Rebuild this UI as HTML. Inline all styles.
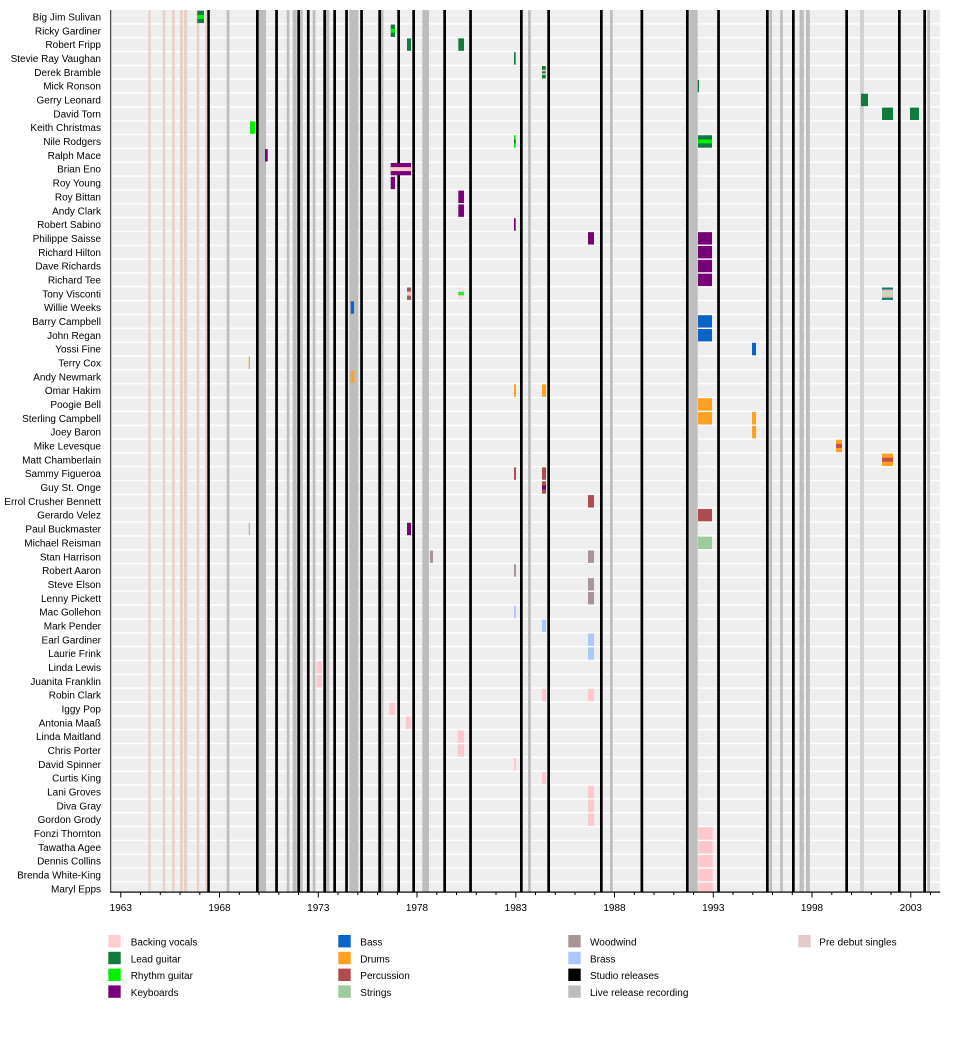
<!DOCTYPE html>
<html><head><meta charset="utf-8"><style>
html,body{margin:0;padding:0;background:#fff;}
svg{display:block;}
text{font-family:"Liberation Sans",Arial,sans-serif;font-size:10px;fill:#000;}
</style></head><body>
<svg width="960" height="1042" viewBox="0 0 960 1042" xmlns="http://www.w3.org/2000/svg">
<defs>
<pattern id="rows" patternUnits="userSpaceOnUse" x="0" y="10" width="960" height="13.84">
<rect x="0" y="0" width="960" height="13.84" fill="#eeeeee"/>
<rect x="0" y="13.14" width="960" height="1.4" fill="#ffffff"/>
<rect x="0" y="-0.7" width="960" height="1.4" fill="#ffffff"/>
</pattern>
</defs>
<rect x="110.7" y="10" width="829.3" height="882" fill="url(#rows)"/>
<rect x="110.7" y="10" width="829.3" height="0.8" fill="#eeeeee"/>

<!-- pre debut singles -->
<g fill="#e8d2c8">
<rect x="148.3" y="10" width="2.4" height="882"/>
<rect x="162.7" y="10" width="2.6" height="882"/>
<rect x="172" y="10" width="2.7" height="882"/>
<rect x="180" y="10" width="3" height="882"/>
<rect x="184" y="10" width="3.3" height="882"/>
<rect x="196.7" y="10" width="2.6" height="882"/>
<rect x="205.3" y="10" width="2" height="882"/>
</g>
<!-- live release recordings -->
<g fill="#bdbdbd">
<rect x="226.7" y="10" width="2.7" height="882"/>
<rect x="258.7" y="10" width="7.3" height="882"/>
<rect x="286.7" y="10" width="2.7" height="882"/>
<rect x="292.7" y="10" width="4" height="882"/>
<rect x="300" y="10" width="2.7" height="882"/>
<rect x="312.7" y="10" width="2.7" height="882"/>
<rect x="326" y="10" width="3.3" height="882"/>
<rect x="349.3" y="10" width="9" height="882"/>
<rect x="381" y="10" width="2.4" height="882"/>
<rect x="422.3" y="10" width="6.7" height="882"/>
<rect x="528" y="10" width="2.8" height="882"/>
<rect x="610" y="10" width="2.7" height="882"/>
<rect x="689.3" y="10" width="8.4" height="882"/>
<rect x="769.5" y="10" width="2.6" height="882"/>
<rect x="780.2" y="10" width="2.6" height="882"/>
<rect x="799.5" y="10" width="4.3" height="882"/>
<rect x="806" y="10" width="3.8" height="882"/>
<rect x="927.3" y="10" width="2.7" height="882"/>
</g>
<rect x="860" y="10" width="4" height="882" fill="#d2d2d2"/>
<!-- studio releases -->
<g fill="#000">
<rect x="207.3" y="10" width="2.5" height="882"/>
<rect x="256" y="10" width="2.7" height="882"/>
<rect x="275.2" y="10" width="2.7" height="882"/>
<rect x="297.3" y="10" width="2.7" height="882"/>
<rect x="306.9" y="10" width="2.7" height="882"/>
<rect x="323.3" y="10" width="2.7" height="882"/>
<rect x="333.3" y="10" width="2.7" height="882"/>
<rect x="345.2" y="10" width="2.7" height="882"/>
<rect x="360.2" y="10" width="2.7" height="882"/>
<rect x="378.3" y="10" width="2.7" height="882"/>
<rect x="397.3" y="10" width="2.7" height="882"/>
<rect x="412.3" y="10" width="2.7" height="882"/>
<rect x="443.3" y="10" width="2.7" height="882"/>
<rect x="469.2" y="10" width="2.7" height="882"/>
<rect x="520" y="10" width="2.7" height="882"/>
<rect x="547.3" y="10" width="2.7" height="882"/>
<rect x="600" y="10" width="2.7" height="882"/>
<rect x="640.5" y="10" width="2.7" height="882"/>
<rect x="686" y="10" width="2.7" height="882"/>
<rect x="717.2" y="10" width="2.7" height="882"/>
<rect x="766" y="10" width="2.7" height="882"/>
<rect x="792" y="10" width="2.7" height="882"/>
<rect x="845.3" y="10" width="2.7" height="882"/>
<rect x="898" y="10" width="2.7" height="882"/>
<rect x="923.3" y="10" width="2.7" height="882"/>
</g>

<!-- bars -->
<g>
<!-- 0 Big Jim Sulivan -->
<rect x="197.3" y="10.7" width="6.7" height="12.4" fill="#117a3c"/><rect x="197.3" y="14.9" width="6.7" height="4" fill="#00f000"/>
<!-- 1 Ricky Gardiner -->
<rect x="390.7" y="24.54" width="4.3" height="12.4" fill="#117a3c"/><rect x="390.7" y="28.7" width="4.3" height="4" fill="#00f000"/>
<!-- 2 Robert Fripp -->
<rect x="407" y="38.38" width="4" height="12.4" fill="#117a3c"/>
<rect x="458.3" y="38.38" width="5.7" height="12.4" fill="#117a3c"/>
<!-- 3 SRV -->
<rect x="514" y="52.22" width="1.7" height="12.4" fill="#117a3c"/>
<!-- 4 Derek Bramble -->
<rect x="542" y="66.06" width="3.7" height="12.4" fill="#117a3c"/><rect x="542" y="69.8" width="3.7" height="1.6" fill="#f2c8c8"/><rect x="542" y="73.3" width="3.7" height="1.6" fill="#f2c8c8"/>
<!-- 5 Mick Ronson -->
<rect x="697.7" y="79.9" width="1.3" height="12.4" fill="#117a3c"/>
<!-- 6 Gerry Leonard -->
<rect x="861" y="93.74" width="7" height="12.4" fill="#117a3c"/>
<!-- 7 David Torn -->
<rect x="882" y="107.58" width="11" height="12.4" fill="#117a3c"/>
<rect x="910" y="107.58" width="9" height="12.4" fill="#117a3c"/>
<!-- 8 Keith Christmas -->
<rect x="250" y="121.42" width="5.3" height="12.4" fill="#00f000"/>
<!-- 9 Nile Rodgers -->
<rect x="514" y="135.26" width="1.7" height="12.4" fill="#00f000"/><rect x="514" y="139.4" width="1.7" height="4" fill="#117a3c"/>
<rect x="698" y="135.26" width="14" height="12.4" fill="#117a3c"/><rect x="698" y="139.4" width="14" height="4" fill="#00f000"/>
<!-- 10 Ralph Mace -->
<rect x="265" y="149.1" width="2.7" height="12.4" fill="#780078"/>
<!-- 11 Brian Eno -->
<rect x="390.7" y="162.94" width="20.3" height="12.4" fill="#780078"/><rect x="390.7" y="167.1" width="20.3" height="4" fill="#ffc6cb"/>
<!-- 12 Roy Young -->
<rect x="390.7" y="176.78" width="4.3" height="12.4" fill="#780078"/>
<!-- 13 Roy Bittan -->
<rect x="458.3" y="190.62" width="5.7" height="12.4" fill="#780078"/>
<!-- 14 Andy Clark -->
<rect x="458.3" y="204.46" width="5.7" height="12.4" fill="#780078"/>
<!-- 15 Robert Sabino -->
<rect x="514" y="218.3" width="1.7" height="12.4" fill="#780078"/>
<!-- 16 Philippe Saisse -->
<rect x="588" y="232.14" width="6" height="12.4" fill="#780078"/>
<rect x="698" y="232.14" width="14" height="12.4" fill="#780078"/>
<!-- 17-19 -->
<rect x="698" y="245.98" width="14" height="12.4" fill="#780078"/>
<rect x="698" y="259.82" width="14" height="12.4" fill="#780078"/>
<rect x="698" y="273.66" width="14" height="12.4" fill="#780078"/>
<!-- 20 Tony Visconti -->
<rect x="407" y="287.5" width="4" height="12.4" fill="#a05a5a"/><rect x="407" y="291.6" width="4" height="4" fill="#ffc6cb"/>
<rect x="458.3" y="287.5" width="5.7" height="12.4" fill="#f4e0e0"/><rect x="458.3" y="291.8" width="5.7" height="3.6" fill="#22ee22"/>
<rect x="882" y="287.5" width="11" height="2.2" fill="#0b7a6a"/>
<rect x="882" y="289.7" width="11" height="2.4" fill="#f4b8c0"/>
<rect x="882" y="292.1" width="11" height="3.2" fill="#b6e0b6"/>
<rect x="882" y="295.3" width="11" height="2.4" fill="#f4b8c0"/>
<rect x="882" y="297.7" width="11" height="2.2" fill="#0b7a6a"/>
<!-- 21 Willie Weeks -->
<rect x="350.7" y="301.34" width="3.3" height="12.4" fill="#0a64c8"/>
<!-- 22,23 -->
<rect x="698" y="315.18" width="14" height="12.4" fill="#0a64c8"/>
<rect x="698" y="329.02" width="14" height="12.4" fill="#0a64c8"/>
<!-- 24 Yossi Fine -->
<rect x="752" y="342.86" width="4" height="12.4" fill="#0a64c8"/>
<!-- 25 Terry Cox -->
<rect x="248.7" y="356.7" width="1.2" height="12.4" fill="#ffa020"/>
<!-- 26 Andy Newmark -->
<rect x="350.7" y="370.54" width="3.6" height="12.4" fill="#ffa020"/>
<!-- 27 Omar Hakim -->
<rect x="514" y="384.38" width="2" height="12.4" fill="#ffa020"/>
<rect x="542" y="384.38" width="4" height="12.4" fill="#ffa020"/>
<!-- 28 Poogie Bell -->
<rect x="698" y="398.22" width="14" height="12.4" fill="#ffa020"/>
<!-- 29 Sterling Campbell -->
<rect x="698" y="412.06" width="14" height="12.4" fill="#ffa020"/>
<rect x="752" y="412.06" width="4" height="12.4" fill="#ffa020"/>
<!-- 30 Joey Baron -->
<rect x="752" y="425.9" width="4" height="12.4" fill="#ffa020"/>
<!-- 31 Mike Levesque -->
<rect x="836" y="439.74" width="6" height="12.4" fill="#ffa020"/><rect x="836" y="443.9" width="6" height="4" fill="#c0504a"/>
<!-- 32 Matt Chamberlain -->
<rect x="882" y="453.58" width="11" height="12.4" fill="#ffa020"/><rect x="882" y="457.7" width="11" height="4" fill="#c0504a"/>
<!-- 33 Sammy Figueroa -->
<rect x="514" y="467.42" width="2" height="12.4" fill="#b04c50"/>
<rect x="542" y="467.42" width="4" height="12.4" fill="#b04c50"/>
<!-- 34 Guy St. Onge -->
<rect x="542" y="481.26" width="4" height="12.4" fill="#b04c50"/><rect x="542" y="485.4" width="4" height="4" fill="#780078"/>
<!-- 35 Errol -->
<rect x="588" y="495.1" width="6" height="12.4" fill="#b04c50"/>
<!-- 36 Gerardo Velez -->
<rect x="698" y="508.94" width="14" height="12.4" fill="#b04c50"/>
<!-- 37 Paul Buckmaster -->
<rect x="248.7" y="522.78" width="1.2" height="12.4" fill="#8cc4b4"/>
<rect x="407" y="522.78" width="4" height="12.4" fill="#780078"/>
<!-- 38 Michael Reisman -->
<rect x="698" y="536.62" width="14" height="12.4" fill="#9dcb9d"/>
<!-- 39 Stan Harrison -->
<rect x="430" y="550.46" width="3" height="12.4" fill="#a89494"/>
<rect x="588" y="550.46" width="6" height="12.4" fill="#a89494"/>
<!-- 40 Robert Aaron -->
<rect x="514" y="564.3" width="2" height="12.4" fill="#a89494"/>
<!-- 41,42 -->
<rect x="588" y="578.14" width="6" height="12.4" fill="#a89494"/>
<rect x="588" y="591.98" width="6" height="12.4" fill="#a89494"/>
<!-- 43 Mac Gollehon -->
<rect x="514" y="605.82" width="2" height="12.4" fill="#aac8ff"/>
<!-- 44 Mark Pender -->
<rect x="542" y="619.66" width="4" height="12.4" fill="#aac8ff"/>
<!-- 45,46 -->
<rect x="588" y="633.5" width="6" height="12.4" fill="#aac8ff"/>
<rect x="588" y="647.34" width="6" height="12.4" fill="#aac8ff"/>
<!-- backing vocals -->
<g fill="#ffc6cb">
<rect x="316.7" y="661.18" width="5" height="12.4"/>
<rect x="316.7" y="675.02" width="5" height="12.4"/>
<rect x="542" y="688.86" width="4" height="12.4"/>
<rect x="588" y="688.86" width="6" height="12.4"/>
<rect x="389.3" y="702.7" width="5.4" height="12.4"/>
<rect x="406" y="716.54" width="4.7" height="12.4"/>
<rect x="457.7" y="730.38" width="6.3" height="12.4"/>
<rect x="457.7" y="744.22" width="6.3" height="12.4"/>
<rect x="514" y="758.06" width="2" height="12.4"/>
<rect x="542" y="771.9" width="4" height="12.4"/>
<rect x="588" y="785.74" width="6" height="12.4"/>
<rect x="588" y="799.58" width="6" height="12.4"/>
<rect x="588" y="813.42" width="6" height="12.4"/>
<rect x="698.3" y="827.26" width="14.4" height="12.4"/>
<rect x="698.3" y="841.1" width="14.4" height="12.4"/>
<rect x="698.3" y="854.94" width="14.4" height="12.4"/>
<rect x="698.3" y="868.78" width="14.4" height="12.4"/>
<rect x="698.3" y="882.62" width="14.4" height="9.4"/>
</g>
</g>

<!-- axes -->
<rect x="110.2" y="10" width="1" height="882.5" fill="#222"/>
<rect x="110.2" y="891.5" width="830" height="1.2" fill="#000"/>
<g fill="#000">
<rect x="120.3" y="892" width="1" height="5.5"/>
<rect x="140" y="892" width="1" height="3"/>
<rect x="159.8" y="892" width="1" height="3"/>
<rect x="179.5" y="892" width="1" height="3"/>
<rect x="199.3" y="892" width="1" height="3"/>
<rect x="219" y="892" width="1" height="5.5"/>
<rect x="238.8" y="892" width="1" height="3"/>
<rect x="258.5" y="892" width="1" height="3"/>
<rect x="278.3" y="892" width="1" height="3"/>
<rect x="298" y="892" width="1" height="3"/>
<rect x="317.8" y="892" width="1" height="5.5"/>
<rect x="337.5" y="892" width="1" height="3"/>
<rect x="357.3" y="892" width="1" height="3"/>
<rect x="377" y="892" width="1" height="3"/>
<rect x="396.8" y="892" width="1" height="3"/>
<rect x="416.5" y="892" width="1" height="5.5"/>
<rect x="436.3" y="892" width="1" height="3"/>
<rect x="456" y="892" width="1" height="3"/>
<rect x="475.8" y="892" width="1" height="3"/>
<rect x="495.5" y="892" width="1" height="3"/>
<rect x="515.3" y="892" width="1" height="5.5"/>
<rect x="535" y="892" width="1" height="3"/>
<rect x="554.8" y="892" width="1" height="3"/>
<rect x="574.5" y="892" width="1" height="3"/>
<rect x="594.3" y="892" width="1" height="3"/>
<rect x="614" y="892" width="1" height="5.5"/>
<rect x="633.8" y="892" width="1" height="3"/>
<rect x="653.5" y="892" width="1" height="3"/>
<rect x="673.3" y="892" width="1" height="3"/>
<rect x="693" y="892" width="1" height="3"/>
<rect x="712.8" y="892" width="1" height="5.5"/>
<rect x="732.5" y="892" width="1" height="3"/>
<rect x="752.3" y="892" width="1" height="3"/>
<rect x="772" y="892" width="1" height="3"/>
<rect x="791.8" y="892" width="1" height="3"/>
<rect x="811.5" y="892" width="1" height="5.5"/>
<rect x="831.3" y="892" width="1" height="3"/>
<rect x="851" y="892" width="1" height="3"/>
<rect x="870.8" y="892" width="1" height="3"/>
<rect x="890.5" y="892" width="1" height="3"/>
<rect x="910.3" y="892" width="1" height="5.5"/>
<rect x="930" y="892" width="1" height="3"/>
</g>
<g text-anchor="middle">
<text x="120.8" y="911">1963</text>
<text x="219.5" y="911">1968</text>
<text x="318.3" y="911">1973</text>
<text x="417" y="911">1978</text>
<text x="515.8" y="911">1983</text>
<text x="614.5" y="911">1988</text>
<text x="713.3" y="911">1993</text>
<text x="812" y="911">1998</text>
<text x="910.8" y="911">2003</text>
</g>

<!-- names -->
<g text-anchor="end">
<text x="101" y="20.5">Big Jim Sulivan</text>
<text x="101" y="34.34">Ricky Gardiner</text>
<text x="101" y="48.18">Robert Fripp</text>
<text x="101" y="62.02">Stevie Ray Vaughan</text>
<text x="101" y="75.86">Derek Bramble</text>
<text x="101" y="89.7">Mick Ronson</text>
<text x="101" y="103.54">Gerry Leonard</text>
<text x="101" y="117.38">David Torn</text>
<text x="101" y="131.22">Keith Christmas</text>
<text x="101" y="145.06">Nile Rodgers</text>
<text x="101" y="158.9">Ralph Mace</text>
<text x="101" y="172.74">Brian Eno</text>
<text x="101" y="186.58">Roy Young</text>
<text x="101" y="200.42">Roy Bittan</text>
<text x="101" y="214.26">Andy Clark</text>
<text x="101" y="228.1">Robert Sabino</text>
<text x="101" y="241.94">Philippe Saisse</text>
<text x="101" y="255.78">Richard Hilton</text>
<text x="101" y="269.62">Dave Richards</text>
<text x="101" y="283.46">Richard Tee</text>
<text x="101" y="297.3">Tony Visconti</text>
<text x="101" y="311.14">Willie Weeks</text>
<text x="101" y="324.98">Barry Campbell</text>
<text x="101" y="338.82">John Regan</text>
<text x="101" y="352.66">Yossi Fine</text>
<text x="101" y="366.5">Terry Cox</text>
<text x="101" y="380.34">Andy Newmark</text>
<text x="101" y="394.18">Omar Hakim</text>
<text x="101" y="408.02">Poogie Bell</text>
<text x="101" y="421.86">Sterling Campbell</text>
<text x="101" y="435.7">Joey Baron</text>
<text x="101" y="449.54">Mike Levesque</text>
<text x="101" y="463.38">Matt Chamberlain</text>
<text x="101" y="477.22">Sammy Figueroa</text>
<text x="101" y="491.06">Guy St. Onge</text>
<text x="101" y="504.9">Errol Crusher Bennett</text>
<text x="101" y="518.74">Gerardo Velez</text>
<text x="101" y="532.58">Paul Buckmaster</text>
<text x="101" y="546.42">Michael Reisman</text>
<text x="101" y="560.26">Stan Harrison</text>
<text x="101" y="574.1">Robert Aaron</text>
<text x="101" y="587.94">Steve Elson</text>
<text x="101" y="601.78">Lenny Pickett</text>
<text x="101" y="615.62">Mac Gollehon</text>
<text x="101" y="629.46">Mark Pender</text>
<text x="101" y="643.3">Earl Gardiner</text>
<text x="101" y="657.14">Laurie Frink</text>
<text x="101" y="670.98">Linda Lewis</text>
<text x="101" y="684.82">Juanita Franklin</text>
<text x="101" y="698.66">Robin Clark</text>
<text x="101" y="712.5">Iggy Pop</text>
<text x="101" y="726.34">Antonia Maaß</text>
<text x="101" y="740.18">Linda Maitland</text>
<text x="101" y="754.02">Chris Porter</text>
<text x="101" y="767.86">David Spinner</text>
<text x="101" y="781.7">Curtis King</text>
<text x="101" y="795.54">Lani Groves</text>
<text x="101" y="809.38">Diva Gray</text>
<text x="101" y="823.22">Gordon Grody</text>
<text x="101" y="837.06">Fonzi Thornton</text>
<text x="101" y="850.9">Tawatha Agee</text>
<text x="101" y="864.74">Dennis Collins</text>
<text x="101" y="878.58">Brenda White-King</text>
<text x="101" y="892.42">Maryl Epps</text>
</g>

<!-- legend -->
<g>
<rect x="108.3" y="935" width="12.4" height="12.4" fill="#ffccd0"/>
<rect x="108.3" y="951.8" width="12.4" height="12.4" fill="#117a3c"/>
<rect x="108.3" y="968.6" width="12.4" height="12.4" fill="#00f000"/>
<rect x="108.3" y="985.4" width="12.4" height="12.4" fill="#780078"/>
<text x="130.7" y="945.5">Backing vocals</text>
<text x="130.7" y="962.3">Lead guitar</text>
<text x="130.7" y="979.1">Rhythm guitar</text>
<text x="130.7" y="995.9">Keyboards</text>

<rect x="338.3" y="935" width="12.4" height="12.4" fill="#0a64c8"/>
<rect x="338.3" y="951.8" width="12.4" height="12.4" fill="#ffa020"/>
<rect x="338.3" y="968.6" width="12.4" height="12.4" fill="#b04c50"/>
<rect x="338.3" y="985.4" width="12.4" height="12.4" fill="#9dcb9d"/>
<text x="360.3" y="945.5">Bass</text>
<text x="360.3" y="962.3">Drums</text>
<text x="360.3" y="979.1">Percussion</text>
<text x="360.3" y="995.9">Strings</text>

<rect x="568.3" y="935" width="12.4" height="12.4" fill="#a89494"/>
<rect x="568.3" y="951.8" width="12.4" height="12.4" fill="#aac8ff"/>
<rect x="568.3" y="968.6" width="12.4" height="12.4" fill="#000"/>
<rect x="568.3" y="985.4" width="12.4" height="12.4" fill="#bdbdbd"/>
<text x="590" y="945.5">Woodwind</text>
<text x="590" y="962.3">Brass</text>
<text x="590" y="979.1">Studio releases</text>
<text x="590" y="995.9">Live release recording</text>

<rect x="798.3" y="935" width="12.4" height="12.4" fill="#e6caca"/>
<text x="819.3" y="945.5">Pre debut singles</text>
</g>
</svg>
</body></html>
